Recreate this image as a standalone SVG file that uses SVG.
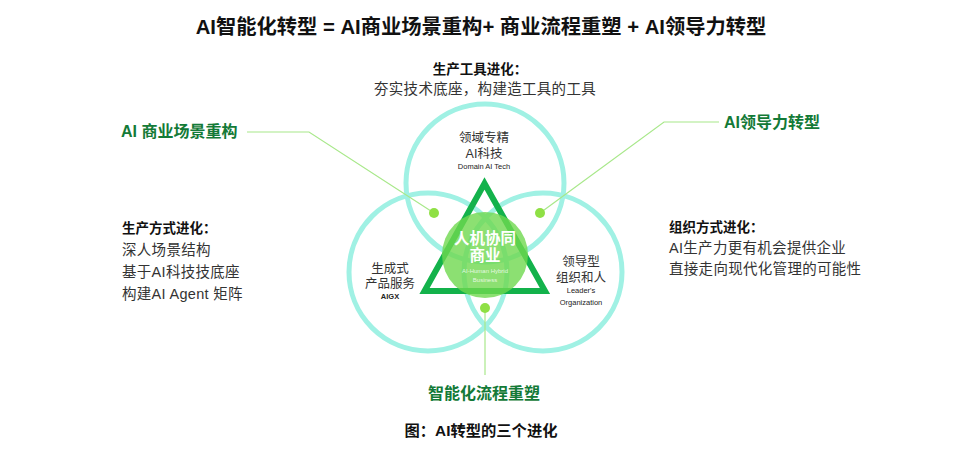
<svg xmlns="http://www.w3.org/2000/svg" width="961" height="457" viewBox="0 0 961 457">
<style>
text{font-family:"Liberation Sans","Noto Sans CJK SC",sans-serif;dominant-baseline:central}
.title{font-size:20.3px;font-weight:700;fill:#111;text-anchor:middle}
.hd{font-size:13.5px;font-weight:700;fill:#111}
.bd{font-size:14.5px;fill:#333;letter-spacing:0.3px}
.green{font-size:16px;font-weight:700;fill:#137a37}
.cn{font-size:12.5px;fill:#333;text-anchor:middle}
.en{font-size:7.5px;fill:#222;text-anchor:middle}
.ring{fill:none;stroke:#a0f1e4;stroke-width:5}
.lead{fill:none;stroke:#a8e88a;stroke-width:1.2}
.dot{fill:#8fe045}
.cw{fill:#fff;text-anchor:middle}
</style>
<rect width="961" height="457" fill="#fff"/>
<text class="title" x="481" y="27">AI智能化转型 = AI商业场景重构+ 商业流程重塑 + AI领导力转型</text>

<g id="top-text">
<text class="hd" x="480" y="69" text-anchor="middle">生产工具进化：</text>
<text class="bd" x="485" y="89" text-anchor="middle">夯实技术底座，构建造工具的工具</text>
</g>
<g id="left-text">
<text class="hd" x="122" y="228">生产方式进化：</text>
<text class="bd" x="122" y="250">深人场景结构</text>
<text class="bd" x="122" y="272">基于AI科技技底座</text>
<text class="bd" x="122" y="294">构建AI Agent 矩阵</text>
</g>
<g id="right-text">
<text class="hd" x="669" y="227">组织方式进化：</text>
<text class="bd" x="669" y="248">AI生产力更有机会提供企业</text>
<text class="bd" x="669" y="269">直接走向现代化管理的可能性</text>
</g>

<g id="circles">
<circle class="ring" cx="485" cy="183" r="79"/>
<circle class="ring" cx="428" cy="272" r="79"/>
<circle class="ring" cx="543" cy="272" r="79"/>
</g>
<g id="triangle">
<polygon points="484.5,183.5 424.5,291 545,291" fill="none" stroke="#13b24b" stroke-width="6" stroke-linejoin="miter"/>
</g>

<g id="connectors">
<polyline class="lead" points="247,132 309,132 434,213"/>
<polyline class="lead" points="719,122 664,122 540,213"/>
<line class="lead" x1="485" y1="308" x2="485" y2="375"/>
</g>

<g id="node-domain-ai-tech">
<text class="cn" x="484" y="138">领域专精</text>
<text class="cn" x="484" y="154">AI科技</text>
<text class="en" x="484" y="166">Domain AI Tech</text>
</g>
<g id="node-aigx">
<text class="cn" x="390" y="269">生成式</text>
<text class="cn" x="390" y="284">产品服务</text>
<text class="en" x="390" y="296" font-weight="700">AIGX</text>
</g>
<g id="node-leader">
<text class="cn" x="581" y="262">领导型</text>
<text class="cn" x="581" y="278">组织和人</text>
<text class="en" x="581" y="290" font-size="8">Leader's</text>
<text class="en" x="581" y="302" font-size="8">Organization</text>
</g>

<g id="node-center">
<circle cx="485" cy="255" r="43" fill="#6fd84f" fill-opacity="0.8"/>
<text class="cw" x="485" y="238" font-size="15.5" font-weight="700">人机协同</text>
<text class="cw" x="485" y="255" font-size="15.5" font-weight="700">商业</text>
<text class="cw" x="485" y="271" font-size="6" fill-opacity="0.8">AI-Human Hybrid</text>
<text class="cw" x="485" y="280" font-size="6" fill-opacity="0.8">Business</text>
</g>

<g id="dots">
<circle class="dot" cx="434" cy="213" r="5"/>
<circle class="dot" cx="540" cy="213" r="5"/>
<circle class="dot" cx="485" cy="308" r="5"/>
</g>

<g id="label-scene">
<text class="green" x="121" y="131">AI 商业场景重构</text>
</g>
<g id="label-leader">
<text class="green" x="724" y="122">AI领导力转型</text>
</g>
<g id="label-process">
<text class="green" x="484" y="393" text-anchor="middle">智能化流程重塑</text>
</g>
<text x="481" y="430" text-anchor="middle" font-size="15.3" font-weight="700" fill="#111">图：AI转型的三个进化</text>
</svg>
